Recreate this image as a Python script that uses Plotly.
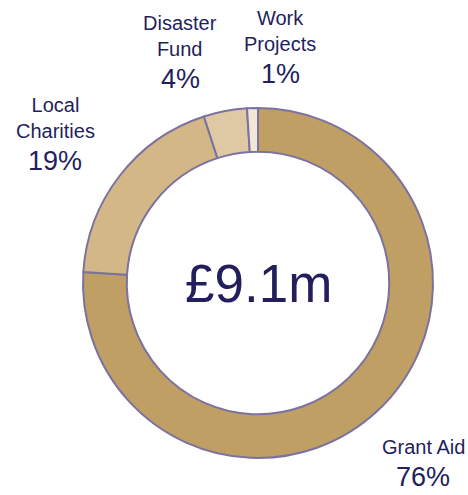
import plotly.graph_objects as go

# Funding split (per cent of total)
categories = ["Grant Aid", "Local Charities", "Disaster Fund", "Work Projects"]
label_lines = ["Grant Aid", "Local<br>Charities", "Disaster<br>Fund", "Work<br>Projects"]
shares = [76, 19, 4, 1]
total_label = "£9.1m"

colors = ["#BF9F64", "#D3B786", "#DFC9A4", "#F2E8DA"]
outline = "#7C72A0"
ink = "#231F5C"
font_family = "Liberation Sans, Arial, sans-serif"

W, H = 468, 495
cx, cy, R = 258, 283, 175

fig = go.Figure(
    go.Pie(
        labels=categories,
        values=shares,
        hole=0.75,
        sort=False,
        direction="clockwise",
        rotation=0,
        textinfo="none",
        hoverinfo="label+percent",
        marker=dict(colors=colors, line=dict(color=outline, width=2)),
        domain=dict(x=[(cx - R) / W, (cx + R) / W], y=[1 - (cy + R) / H, 1 - (cy - R) / H]),
        showlegend=False,
    )
)

# Label block positions in pixels: (centre x, y of first name line)
label_pos = {
    "Grant Aid": (423, 446),
    "Local Charities": (55, 104),
    "Disaster Fund": (180, 22),
    "Work Projects": (280, 17),
}

annotations = []
for cat, name, val in zip(categories, label_lines, shares):
    x, y = label_pos[cat]
    n_lines = name.count("<br>") + 1
    annotations.append(dict(
        text=name, x=x / W, y=1 - (y - 12) / H, xref="paper", yref="paper",
        xanchor="center", yanchor="top", showarrow=False, align="center",
        font=dict(family=font_family, size=20, color=ink),
    ))
    py = y + 26 * (n_lines - 1) + 31
    annotations.append(dict(
        text=f"{val}%", x=x / W, y=1 - py / H, xref="paper", yref="paper",
        xanchor="center", yanchor="middle", showarrow=False,
        font=dict(family=font_family, size=27, color=ink),
    ))

annotations.append(dict(
    text=total_label, x=cx / W, y=1 - cy / H, xref="paper", yref="paper",
    xanchor="center", yanchor="middle", showarrow=False,
    font=dict(family=font_family, size=53, color=ink),
))

fig.update_layout(
    width=W, height=H,
    margin=dict(l=0, r=0, t=0, b=0),
    paper_bgcolor="white", plot_bgcolor="white",
    annotations=annotations,
)

fig.write_html("out.html")
